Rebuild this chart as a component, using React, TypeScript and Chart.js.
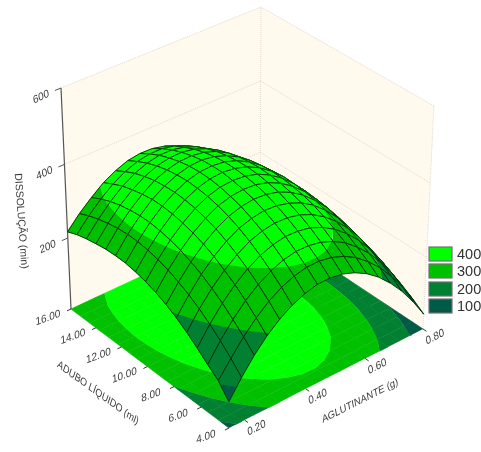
import React, { useEffect, useRef } from "react";
import { Chart, registerables } from "chart.js";

Chart.register(...registerables);

// Axes
const aduboTicks = [16, 14, 12, 10, 8, 6, 4];
const aglutTicks = [0.2, 0.4, 0.6, 0.8];
const zTicks = [200, 400, 600];
const aduboRange = [4, 16];
const aglutRange = [0.15, 0.8];
const zRange = [0, 600];

// Legend
const legendLabels = ["400", "300", "200", "100"];
const bandLimits = [100, 200, 300];
const bandColors = ["#005A46", "#008030", "#00C000", "#00FF00"];

// Surface heights: one row per adubo step (4 -> 16), one column per aglutinante step
const z00 = [70, 118, 160, 195, 223, 244, 259, 268, 269, 264, 252, 234, 209, 177, 139, 94, 42];
const z01 = [106, 148, 189, 223, 251, 272, 286, 294, 295, 289, 277, 258, 232, 200, 161, 115, 63];
const z02 = [128, 175, 215, 249, 276, 296, 310, 317, 317, 311, 298, 279, 252, 220, 180, 134, 81];
const z03 = [152, 199, 239, 272, 298, 318, 331, 338, 337, 331, 317, 297, 270, 237, 196, 149, 96];
const z04 = [174, 220, 259, 291, 317, 337, 349, 355, 354, 347, 333, 312, 285, 251, 210, 162, 108];
const z05 = [193, 238, 277, 309, 334, 353, 364, 370, 368, 360, 346, 325, 296, 262, 220, 173, 118];
const z06 = [209, 253, 291, 323, 348, 366, 377, 382, 380, 372, 356, 334, 305, 271, 228, 180, 124];
const z07 = [222, 266, 303, 334, 358, 376, 386, 390, 388, 379, 363, 340, 311, 275, 233, 184, 128];
const z08 = [232, 275, 312, 342, 366, 383, 393, 396, 393, 384, 367, 344, 314, 278, 235, 185, 129];
const z09 = [239, 282, 318, 348, 371, 387, 397, 400, 396, 386, 369, 345, 315, 278, 234, 184, 127];
const z10 = [244, 286, 322, 351, 373, 389, 398, 400, 396, 385, 367, 343, 312, 275, 230, 179, 122];
const z11 = [245, 287, 322, 351, 372, 387, 396, 398, 393, 381, 363, 338, 307, 269, 224, 172, 114];
const z12 = [244, 285, 319, 347, 369, 383, 391, 392, 387, 375, 356, 330, 298, 260, 214, 162, 103];
const z13 = [240, 280, 314, 341, 362, 376, 383, 384, 378, 365, 346, 320, 287, 248, 202, 149, 90];
const z14 = [235, 273, 306, 333, 353, 366, 373, 373, 366, 353, 333, 306, 273, 233, 187, 133, 73];
const z15 = [228, 264, 295, 321, 340, 353, 359, 359, 352, 338, 317, 290, 256, 216, 168, 115, 54];
const z16 = [217, 252, 281, 307, 325, 338, 343, 342, 334, 320, 299, 271, 236, 195, 148, 93, 32];
const surface = [z00, z01, z02, z03, z04, z05, z06, z07, z08, z09, z10, z11, z12, z13, z14, z15, z16];

// Camera: where the corners of the plot box fall (front, left, right, back)
const floorBox = [{ x: 229, y: 428 }, { x: 71, y: 309 }, { x: 423, y: 329 }, { x: 260, y: 221 }];
const roofBox = [{ x: 228, y: 193 }, { x: 61, y: 88 }, { x: 434, y: 106 }, { x: 261, y: 7 }];
const zPerspective = 0.947;

type P = { x: number; y: number };

function homography(q: P[]) {
  const [F, L, R, B] = q;
  const sx = F.x - L.x - R.x + B.x, sy = F.y - L.y - R.y + B.y;
  const dx1 = L.x - B.x, dx2 = R.x - B.x, dy1 = L.y - B.y, dy2 = R.y - B.y;
  const det = dx1 * dy2 - dx2 * dy1;
  const g = (sx * dy2 - dx2 * sy) / det, h = (dx1 * sy - sx * dy1) / det;
  const a = L.x - F.x + g * L.x, b = R.x - F.x + h * R.x;
  const d = L.y - F.y + g * L.y, e = R.y - F.y + h * R.y;
  return (u: number, v: number): P => {
    const w = g * u + h * v + 1;
    return { x: (a * u + b * v + F.x) / w, y: (d * u + e * v + F.y) / w };
  };
}
const floorAt = homography(floorBox);
const roofAt = homography(roofBox);

function project(u: number, v: number, z: number): P {
  const f = floorAt(u, v), r = roofAt(u, v);
  const t0 = z / zRange[1];
  const t = (zPerspective * t0) / (1 + (zPerspective - 1) * t0);
  return { x: f.x + (r.x - f.x) * t, y: f.y + (r.y - f.y) * t };
}
const uOf = (a: number) => (a - aduboRange[0]) / (aduboRange[1] - aduboRange[0]);
const vOf = (g: number) => (g - aglutRange[0]) / (aglutRange[1] - aglutRange[0]);

type V = { u: number; v: number; z: number };
function clipAbove(poly: V[], lim: number, sign: number): V[] {
  const out: V[] = [];
  for (let i = 0; i < poly.length; i++) {
    const a = poly[i], b = poly[(i + 1) % poly.length];
    const ia = sign * (a.z - lim) >= 0, ib = sign * (b.z - lim) >= 0;
    if (ia) out.push(a);
    if (ia !== ib) {
      const t = (lim - a.z) / (b.z - a.z);
      out.push({ u: a.u + (b.u - a.u) * t, v: a.v + (b.v - a.v) * t, z: lim });
    }
  }
  return out;
}
function bandPieces(cell: V[]) {
  const pieces: { poly: V[]; color: string }[] = [];
  bandColors.forEach((color, k) => {
    let p = cell;
    if (k > 0) p = clipAbove(p, bandLimits[k - 1], 1);
    if (k < bandLimits.length && p.length) p = clipAbove(p, bandLimits[k], -1);
    if (p.length > 2) pieces.push({ poly: p, color });
  });
  return pieces;
}

function polygon(points: P[], color: string) {
  return {
    data: points, showLine: true, fill: "shape", backgroundColor: color, borderColor: color,
    borderWidth: 0.7, pointRadius: 0, tension: 0,
  };
}
function stroke(points: P[], color: string, width: number, dash: number[] = []) {
  return {
    data: points, showLine: true, fill: false, borderColor: color, borderWidth: width,
    borderDash: dash, pointRadius: 0, tension: 0,
  };
}

function buildDatasets() {
  const out: any[] = [];
  const wall = "#FFF9EE", gridC = "#DEDBD2", top = zRange[1];
  out.push(polygon([project(1, 0, 0), project(1, 1, 0), project(1, 1, top), project(1, 0, top)], wall));
  out.push(polygon([project(0, 1, 0), project(1, 1, 0), project(1, 1, top), project(0, 1, top)], wall));
  zTicks.forEach((z) => {
    out.push(stroke([project(1, 0, z), project(1, 1, z), project(0, 1, z)], gridC, 1, [1, 1]));
  });
  out.push(stroke([project(1, 1, 0), project(1, 1, top)], gridC, 1, [1, 1]));
  out.push(stroke([project(0, 1, 0), project(0, 1, top)], gridC, 1, [1, 1]));

  const n = surface.length - 1, m = surface[0].length - 1;
  const cell = (i: number, j: number): V[] => [
    { u: i / n, v: j / m, z: surface[i][j] },
    { u: (i + 1) / n, v: j / m, z: surface[i + 1][j] },
    { u: (i + 1) / n, v: (j + 1) / m, z: surface[i + 1][j + 1] },
    { u: i / n, v: (j + 1) / m, z: surface[i][j + 1] },
  ];
  // floor contour map
  for (let i = 0; i < n; i++) for (let j = 0; j < m; j++) {
    bandPieces(cell(i, j)).forEach(({ poly, color }) => {
      out.push(polygon(poly.map((p) => project(p.u, p.v, 0)), color));
    });
  }
  // axes
  out.push(stroke([project(1, 0, 0), project(1, 0, top)], "#555555", 1.2));
  zTicks.forEach((z) => out.push(stroke([project(1, 0, z), project(1, -0.03, z)], "#555555", 1)));
  aduboTicks.forEach((a) => out.push(stroke([project(uOf(a), 0, 0), project(uOf(a), -0.02, 0)], "#333333", 1)));
  aglutTicks.forEach((g) => out.push(stroke([project(0, vOf(g), 0), project(-0.02, vOf(g), 0)], "#333333", 1)));
  // surface, back to front
  for (let i = n - 1; i >= 0; i--) for (let j = m - 1; j >= 0; j--) {
    const c = cell(i, j);
    bandPieces(c).forEach(({ poly, color }) => {
      out.push(polygon(poly.map((p) => project(p.u, p.v, p.z)), color));
    });
    out.push(stroke([...c, c[0]].map((p) => project(p.u, p.v, p.z)), "#002A08", 0.9));
  }
  return out.reverse();
}

function slantText(ctx: CanvasRenderingContext2D, text: string, x: number, y: number, deg: number, shear: number, font: string) {
  ctx.save();
  ctx.translate(x, y);
  ctx.rotate((deg * Math.PI) / 180);
  ctx.transform(1, 0, shear, 1, 0, 0);
  ctx.font = font;
  ctx.fillStyle = "#3A3A3A";
  ctx.textAlign = "center";
  ctx.textBaseline = "middle";
  ctx.fillText(text, 0, 0);
  ctx.restore();
}

const textPlugin = {
  id: "boxText",
  afterDraw(chart: any) {
    const { ctx, scales } = chart;
    const px = (p: P): P => ({ x: scales.x.getPixelForValue(p.x), y: scales.y.getPixelForValue(p.y) });
    const font = '10.5px "Liberation Sans", Arial, sans-serif';
    zTicks.forEach((z) => {
      const p = px(project(1, 0, z));
      slantText(ctx, String(z), p.x - 20, p.y + 9, -25, -0.25, font);
    });
    aduboTicks.forEach((a) => {
      const p = px(project(uOf(a), 0, 0));
      slantText(ctx, a.toFixed(2), p.x - 23, p.y + 9, -20, -0.3, font);
    });
    aglutTicks.forEach((g) => {
      const p = px(project(0, vOf(g), 0));
      slantText(ctx, g.toFixed(2), p.x + 12, p.y + 8, -28, -0.3, font);
    });
    slantText(ctx, "DISSOLUÇÃO (min)", 21, 221, 86, 0, font);
    slantText(ctx, "ADUBO LÍQUIDO (ml)", 98, 393, 36, 0.3, '10px "Liberation Sans", Arial, sans-serif');
    slantText(ctx, "AGLUTINANTE (g)", 360, 401, -27, -0.3, '10px "Liberation Sans", Arial, sans-serif');

    const rows = [247, 264, 282, 299];
    legendLabels.forEach((label, k) => {
      const color = bandColors[bandColors.length - 1 - k];
      ctx.fillStyle = color;
      ctx.fillRect(429, rows[k], 23, 14);
      ctx.strokeStyle = "#707070";
      ctx.lineWidth = 1.2;
      ctx.strokeRect(429, rows[k], 23, 14);
      ctx.font = '14.5px "Liberation Sans", Arial, sans-serif';
      ctx.fillStyle = "#333333";
      ctx.textAlign = "left";
      ctx.textBaseline = "middle";
      ctx.fillText(label, 457, rows[k] + 7.5);
    });
  },
};

export default function App() {
  const ref = useRef<HTMLCanvasElement>(null);
  useEffect(() => {
    const chart = new Chart(ref.current as HTMLCanvasElement, {
      type: "scatter",
      data: { datasets: buildDatasets() },
      options: {
        animation: false,
        responsive: false,
        layout: { padding: 0 },
        events: [],
        plugins: { legend: { display: false }, tooltip: { enabled: false } },
        scales: {
          x: { type: "linear", display: false, min: 0, max: 481 },
          y: { type: "linear", display: false, min: 0, max: 452, reverse: true },
        },
      },
      plugins: [textPlugin],
    } as any);
    return () => chart.destroy();
  }, []);
  return (
    <div style={{ position: "fixed", left: 0, top: 0, width: 481, height: 452, background: "#fff" }}>
      <canvas ref={ref} width={481} height={452} style={{ display: "block" }} />
    </div>
  );
}
